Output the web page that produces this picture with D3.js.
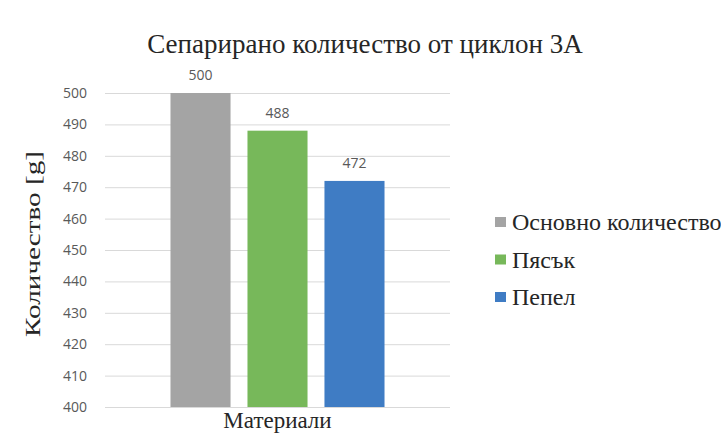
<!DOCTYPE html>
<html>
<head>
<meta charset="utf-8">
<script src="https://cdn.jsdelivr.net/npm/d3@7"></script>
<style>
  body { margin: 0; background: #fff; }
  .tick text { font-family: "Open Sans", sans-serif; font-size: 14px; fill: #595959; }
</style>
</head>
<body>
<div id="chart"></div>
<script>
// data
const categories = ['Материали'];
const seriesNames = ['Основно количество', 'Пясък', 'Пепел'];
const seriesValues = [500, 488, 472];
const seriesColors = ['#a4a4a4', '#77b85a', '#3f7cc4'];
const yTicks = [400, 410, 420, 430, 440, 450, 460, 470, 480, 490, 500];

const width = 721, height = 435;
const margin = { top: 93, right: 271, bottom: 28, left: 105 };
const serif = "'Liberation Serif', 'Times New Roman', serif";

const svg = d3.select('#chart').append('svg')
  .attr('width', width)
  .attr('height', height);

const y = d3.scaleLinear()
  .domain([400, 500])
  .range([height - margin.bottom, margin.top]);

const x0 = d3.scaleBand()
  .domain(categories)
  .range([margin.left, width - margin.right])
  .paddingOuter(0.306);

const x1 = d3.scaleBand()
  .domain(seriesNames)
  .range([0, x0.bandwidth()])
  .paddingInner(0.22);

// grid + y axis
const yAxis = svg.append('g')
  .attr('transform', `translate(${margin.left},0)`)
  .call(d3.axisLeft(y).tickValues(yTicks).tickSize(-(width - margin.left - margin.right)).tickPadding(18));
yAxis.select('.domain').remove();
yAxis.selectAll('.tick line').attr('stroke', '#d9d9d9');

// bars
const group = svg.append('g')
  .attr('transform', `translate(${x0(categories[0])},0)`);

group.selectAll('rect')
  .data(seriesValues)
  .enter()
  .append('rect')
  .attr('x', (d, i) => x1(seriesNames[i]))
  .attr('y', d => y(d))
  .attr('width', x1.bandwidth())
  .attr('height', d => y(400) - y(d))
  .attr('fill', (d, i) => seriesColors[i]);

group.selectAll('.lbl')
  .data(seriesValues)
  .enter()
  .append('text')
  .attr('class', 'lbl')
  .attr('x', (d, i) => x1(seriesNames[i]) + x1.bandwidth() / 2)
  .attr('y', d => y(d) - 13)
  .attr('text-anchor', 'middle')
  .style('font-family', '"Open Sans", sans-serif')
  .style('font-size', '14px')
  .style('fill', '#595959')
  .text(d => d);

// title
svg.append('text')
  .attr('x', 365)
  .attr('y', 53)
  .attr('text-anchor', 'middle')
  .style('font-family', serif)
  .style('font-size', '27px')
  .style('fill', '#262626')
  .text('Сепарирано количество от циклон 3А');

// axis titles
svg.append('text')
  .attr('transform', `translate(40,244) rotate(-90)`)
  .attr('text-anchor', 'middle')
  .attr('textLength', 186)
  .attr('lengthAdjust', 'spacingAndGlyphs')
  .style('font-family', serif)
  .style('font-size', '20px')
  .style('fill', '#262626')
  .text('Количество [g]');

svg.append('text')
  .attr('x', x0(categories[0]) + x0.bandwidth() / 2)
  .attr('y', 428)
  .attr('text-anchor', 'middle')
  .style('font-family', serif)
  .style('font-size', '23px')
  .style('fill', '#262626')
  .text(categories[0]);

// legend
const legend = svg.append('g')
  .attr('transform', 'translate(495,222)');

const item = legend.selectAll('g')
  .data(seriesNames)
  .enter()
  .append('g')
  .attr('transform', (d, i) => `translate(0,${i * 37.5})`);

item.append('rect')
  .attr('x', 0)
  .attr('y', -5)
  .attr('width', 11)
  .attr('height', 10)
  .attr('fill', (d, i) => seriesColors[i]);

item.append('text')
  .attr('x', 17)
  .attr('y', 8)
  .style('font-family', serif)
  .style('font-size', '24px')
  .style('fill', '#262626')
  .text(d => d);
</script>
</body>
</html>
